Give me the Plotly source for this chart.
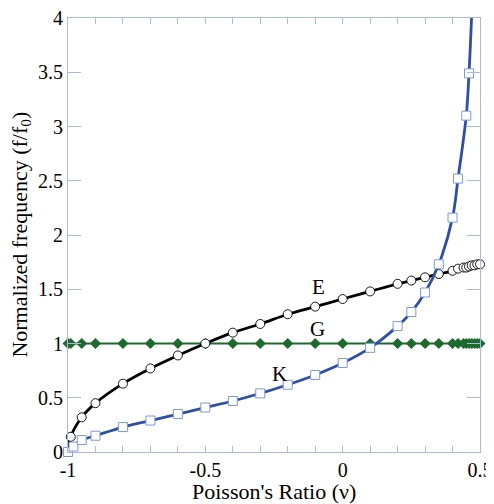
import plotly.graph_objects as go

# E (Young's modulus based) frequency, open circles
e_x = [-1, -0.99, -0.95, -0.9, -0.8, -0.7, -0.6, -0.5, -0.4, -0.3, -0.2, -0.1, 0, 0.1, 0.2, 0.25, 0.3, 0.35, 0.4, 0.42, 0.44, 0.45, 0.46, 0.47, 0.48, 0.49, 0.5]
e_y = [0.0, 0.14, 0.32, 0.45, 0.63, 0.77, 0.89, 1.0, 1.10, 1.18, 1.27, 1.34, 1.41, 1.48, 1.55, 1.58, 1.61, 1.64, 1.67, 1.69, 1.70, 1.70, 1.71, 1.72, 1.72, 1.73, 1.73]

# G (shear) frequency, filled diamonds
g_x = [-1, -0.99, -0.95, -0.9, -0.8, -0.7, -0.6, -0.5, -0.4, -0.3, -0.2, -0.1, 0, 0.1, 0.2, 0.25, 0.3, 0.35, 0.4, 0.42, 0.44, 0.45, 0.46, 0.47, 0.48, 0.49, 0.5]
g_y = [1.0] * len(g_x)

# K (bulk) frequency, open squares
k_x = [-1, -0.98, -0.95, -0.9, -0.8, -0.7, -0.6, -0.5, -0.4, -0.3, -0.2, -0.1, 0, 0.1, 0.2, 0.25, 0.3, 0.35, 0.4, 0.42, 0.45, 0.46]
k_y = [0.0, 0.05, 0.11, 0.15, 0.23, 0.29, 0.35, 0.41, 0.47, 0.54, 0.62, 0.71, 0.82, 0.96, 1.16, 1.29, 1.47, 1.73, 2.16, 2.52, 3.10, 3.49]
# K line continues upward past the top of the chart
k_line_x = k_x + [0.47]
k_line_y = k_y + [4.05]

x_title = "Poisson's Ratio (ν)"
y_title = "Normalized frequency (f/f<sub>0</sub>)"
labels = [("E", -0.087, 1.52), ("G", -0.092, 1.13), ("K", -0.229, 0.72)]

serif = "Liberation Serif, Times New Roman, serif"
axis_col = "#a9b9e2"
blue = "#2f4fa6"
green = "#1e6a2e"

fig = go.Figure()
# G
fig.add_trace(go.Scatter(x=g_x, y=g_y, mode="lines+markers",
                         line=dict(color=green, width=2.2),
                         marker=dict(symbol="diamond", size=8.5, color=green, line=dict(width=0)),
                         showlegend=False, cliponaxis=False))
# E
fig.add_trace(go.Scatter(x=e_x, y=e_y, mode="lines", line=dict(color="black", width=2.8, shape="spline"),
                         showlegend=False))
fig.add_trace(go.Scatter(x=e_x[1:], y=e_y[1:], mode="markers",
                         marker=dict(symbol="circle", size=9, color="white", line=dict(color="black", width=0.9)),
                         showlegend=False, cliponaxis=False))
# K
fig.add_trace(go.Scatter(x=k_line_x, y=k_line_y, mode="lines", line=dict(color=blue, width=2.8, shape="spline"),
                         showlegend=False))
fig.add_trace(go.Scatter(x=k_x, y=k_y, mode="markers",
                         marker=dict(symbol="square", size=9, color="white", line=dict(color="#7f98dc", width=1)),
                         showlegend=False, cliponaxis=False))

for t, x, y in labels:
    fig.add_annotation(x=x, y=y, text=t, showarrow=False,
                       font=dict(family=serif, size=21, color="black"))

# axis titles placed as annotations (paper coordinates)
fig.add_annotation(xref="paper", yref="paper", x=0.5, y=-0.09, text=x_title,
                   showarrow=False, xanchor="center", yanchor="middle",
                   font=dict(family=serif, size=22, color="black"))
fig.add_annotation(xref="paper", yref="paper", x=-0.115, y=0.5, text=y_title,
                   showarrow=False, xanchor="center", yanchor="middle", textangle=-90,
                   font=dict(family=serif, size=22, color="black"))

fig.update_layout(
    width=494, height=504,
    margin=dict(l=60, r=22, t=10, b=60, autoexpand=False),
    paper_bgcolor="white", plot_bgcolor="white",
    font=dict(family=serif, size=20, color="black"),
)
fig.update_xaxes(
    range=[-1, 0.5], tickvals=[-1, -0.5, 0, 0.5], ticktext=["-1", "-0.5", "0", "0.5"],
    ticks="inside", ticklen=6, tickcolor=axis_col, tickwidth=1,
    minor=dict(dtick=0.1, tick0=0, ticks="inside", ticklen=6, tickcolor=axis_col, tickwidth=1),
    showline=True, linecolor=axis_col, linewidth=1, mirror="ticks",
    showgrid=False, zeroline=False, automargin=False,
    tickfont=dict(family=serif, size=20),
    ticklabelstandoff=0, ticklabeloverflow="allow",
)
fig.update_yaxes(
    range=[0, 4], tickvals=[0, 0.5, 1, 1.5, 2, 2.5, 3, 3.5, 4],
    ticktext=["0", "0.5", "1", "1.5", "2", "2.5", "3", "3.5", "4"],
    ticks="inside", ticklen=13, tickcolor=axis_col, tickwidth=1,
    showline=True, linecolor=axis_col, linewidth=1, mirror="ticks",
    showgrid=False, zeroline=False, automargin=False,
    tickfont=dict(family=serif, size=20),
    ticklabelstandoff=0, ticklabeloverflow="allow",
)

fig.write_html("out.html")
